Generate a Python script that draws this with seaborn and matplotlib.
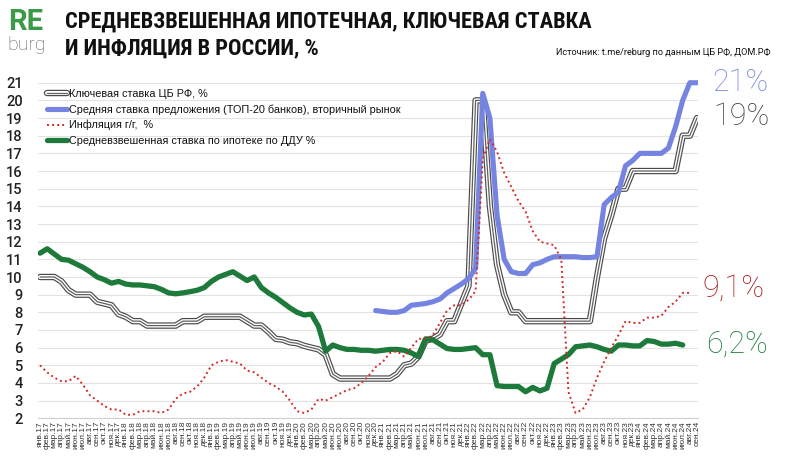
import matplotlib
matplotlib.use("Agg")
import matplotlib.pyplot as plt
import numpy as np
import pandas as pd
import seaborn as sns
from matplotlib.lines import Line2D
from matplotlib.legend_handler import HandlerTuple
from matplotlib import font_manager

# ---------------- data ----------------
month_names = ["янв", "фев", "мар", "апр", "май", "июн", "июл", "авг", "сен", "окт", "ноя", "дек"]
years = ["17", "18", "19", "20", "21", "22", "23", "24"]
month_labels = [f"{m}.{y}" for y in years for m in month_names][:93]  # янв.17 ... сен.24

key_rate = [
    10, 10, 10, 9.75, 9.25, 9.0, 9.0, 9.0, 8.6, 8.5, 8.4, 7.9,
    7.75, 7.5, 7.5, 7.25, 7.25, 7.25, 7.25, 7.25, 7.5, 7.5, 7.5, 7.75,
    7.75, 7.75, 7.75, 7.75, 7.75, 7.5, 7.25, 7.25, 6.9, 6.5, 6.45, 6.3,
    6.25, 6.1, 6.0, 5.9, 5.6, 4.5, 4.25, 4.25, 4.25, 4.25, 4.25, 4.25,
    4.25, 4.25, 4.5, 5.0, 5.1, 5.5, 6.4, 6.5, 6.75, 7.5, 7.5, 8.5,
    9.5, 20, 20, 14, 10.7, 9.0, 8.0, 8.0, 7.5, 7.5, 7.5, 7.5,
    7.5, 7.5, 7.5, 7.5, 7.5, 7.5, 10.0, 12.2, 13.5, 15, 15, 16,
    16, 16, 16, 16, 16, 16, 18, 18, 19,
]

offer_start = 47  # дек.20
offer_rate = [
    8.1,
    8.05, 8.0, 8.0, 8.1, 8.4, 8.45, 8.5, 8.6, 8.75, 9.1, 9.35, 9.6,
    9.9, 10.5, 20.4, 19.0, 13.5, 11.0, 10.3, 10.2, 10.2, 10.7, 10.8, 11.0,
    11.15, 11.15, 11.15, 11.15, 11.1, 11.1, 11.15, 14.1, 14.5, 14.8, 16.3, 16.6,
    17.0, 17.0, 17.0, 17.0, 17.3, 18.5, 20.0, 21.0, 21.0,
]

inflation = [
    5.0, 4.6, 4.3, 4.1, 4.1, 4.4, 3.9, 3.3, 3.0, 2.7, 2.5, 2.5,
    2.2, 2.2, 2.4, 2.4, 2.4, 2.3, 2.5, 3.1, 3.4, 3.5, 3.8, 4.3,
    5.0, 5.2, 5.3, 5.2, 5.1, 4.7, 4.6, 4.3, 4.0, 3.8, 3.5, 3.0,
    2.4, 2.3, 2.5, 3.1, 3.0, 3.2, 3.4, 3.6, 3.7, 4.0, 4.4, 4.9,
    5.2, 5.7, 5.8, 5.5, 6.0, 6.5, 6.5, 6.7, 7.4, 8.1, 8.4, 8.4,
    8.7, 9.2, 16.7, 17.8, 17.1, 15.9, 15.1, 14.3, 13.7, 12.6, 12.0, 11.9,
    11.8, 11.0, 3.5, 2.3, 2.5, 3.2, 4.3, 5.2, 6.0, 6.7, 7.5, 7.4,
    7.4, 7.7, 7.7, 7.8, 8.3, 8.6, 9.1, 9.1,
]

ddu_rate = [
    11.35, 11.6, 11.3, 11.0, 10.95, 10.75, 10.55, 10.3, 10.0, 9.85, 9.65, 9.75,
    9.6, 9.55, 9.55, 9.5, 9.45, 9.3, 9.1, 9.05, 9.1, 9.17, 9.25, 9.4,
    9.75, 10.0, 10.15, 10.3, 10.05, 9.8, 10.0, 9.4, 9.1, 8.85, 8.55, 8.25,
    8.0, 7.85, 7.9, 7.2, 5.8, 6.15, 6.0, 5.9, 5.9, 5.85, 5.85, 5.8,
    5.85, 5.9, 5.9, 5.85, 5.7, 5.5, 6.5, 6.45, 6.2, 5.95, 5.9, 5.9,
    5.95, 6.0, 5.6, 5.6, 3.85, 3.8, 3.8, 3.8, 3.5, 3.75, 3.55, 3.7,
    5.1, 5.35, 5.6, 6.05, 6.1, 6.15, 6.05, 5.9, 5.8, 6.15, 6.15, 6.1,
    6.1, 6.4, 6.35, 6.2, 6.2, 6.25, 6.15,
]

series_names = [
    "Ключевая ставка ЦБ РФ, %",
    "Средняя ставка предложения (ТОП-20 банков), вторичный рынок",
    "Инфляция г/г,  %",
    "Средневзвешенная ставка по ипотеке по ДДУ %",
]
end_labels = ["21%", "19%", "9,1%", "6,2%"]

# ---------------- style ----------------
sns.set_theme(style="white")
plt.rcParams["font.family"] = ["Liberation Sans", "DejaVu Sans"]

names = {f.name for f in font_manager.fontManager.ttflist}
if "Roboto Condensed" in names:
    title_font = dict(family="Roboto Condensed", weight="bold")
elif "Liberation Sans Narrow" in names:
    title_font = dict(family="Liberation Sans Narrow", weight="bold")
else:
    title_font = dict(family="Roboto", weight="bold")
narrow = "Liberation Sans Narrow" if "Liberation Sans Narrow" in names else "Roboto"

C_KEY = "#4a4a4a"
C_BLUE = "#7584e0"
C_RED = "#d42a2a"
C_GREEN = "#1d7a3a"

W, H = 800, 459
fig = plt.figure(figsize=(W / 100, H / 100), dpi=100)
fig.patch.set_facecolor("white")

ax_left, ax_right = 37.9, 698.4
ax_top, ax_bot = 79.2, 418.3
ax = fig.add_axes([ax_left / W, 1 - ax_bot / H, (ax_right - ax_left) / W, (ax_bot - ax_top) / H])

df_key = pd.DataFrame({"m": np.arange(len(key_rate)), "v": key_rate})
df_offer = pd.DataFrame({"m": np.arange(offer_start, offer_start + len(offer_rate)), "v": offer_rate})
df_infl = pd.DataFrame({"m": np.arange(len(inflation)), "v": inflation})
df_ddu = pd.DataFrame({"m": np.arange(len(ddu_rate)), "v": ddu_rate})

# key rate: triple (double-outline) line
sns.lineplot(data=df_key, x="m", y="v", ax=ax, color=C_KEY, linewidth=4.6, zorder=3)
sns.lineplot(data=df_key, x="m", y="v", ax=ax, color="white", linewidth=2.9, zorder=3.1)
sns.lineplot(data=df_key, x="m", y="v", ax=ax, color="#606060", linewidth=0.9, zorder=3.2)
# offer rate
sns.lineplot(data=df_offer, x="m", y="v", ax=ax, color=C_BLUE, linewidth=3.7, zorder=4,
             solid_capstyle="round", solid_joinstyle="round")
# DDU rate
sns.lineplot(data=df_ddu, x="m", y="v", ax=ax, color=C_GREEN, linewidth=3.8, zorder=5,
             solid_capstyle="round", solid_joinstyle="round")
# inflation
sns.lineplot(data=df_infl, x="m", y="v", ax=ax, color=C_RED, linewidth=1.4, zorder=6,
             linestyle=(0, (1, 1.6)))

ax.set_xlim(-0.3, 92.2)
ax.set_ylim(2, 21.2)
ax.set_yticks(range(2, 22))
ax.set_xticks(range(len(month_labels)))
ax.set_xticklabels(month_labels, rotation=90, fontsize=6, color="#333333", family="Liberation Sans")
for lab in ax.get_yticklabels():
    lab.set_fontfamily("Roboto")
    lab.set_fontweight("medium")
    lab.set_fontsize(10.5)
    lab.set_color("#222222")
ax.tick_params(axis="y", length=0, pad=11)
ax.tick_params(axis="x", length=0, pad=2)
ax.grid(axis="y", color="#e2e2e2", linewidth=0.8)
ax.grid(axis="x", visible=False)
ax.set_axisbelow(True)
for s in ["left", "right", "top"]:
    ax.spines[s].set_visible(False)
ax.spines["bottom"].set_color("#d0d0d0")
ax.spines["bottom"].set_linewidth(0.8)
ax.set_xlabel("")
ax.set_ylabel("")

# legend
h_key = (Line2D([], [], color=C_KEY, lw=4.6), Line2D([], [], color="white", lw=2.9),
         Line2D([], [], color="#606060", lw=0.9))
h_blue = Line2D([], [], color=C_BLUE, lw=3.7)
h_red = Line2D([], [], color=C_RED, lw=1.4, linestyle=(0, (1, 1.6)))
h_green = Line2D([], [], color=C_GREEN, lw=3.8)
leg = fig.legend([h_key, h_blue, h_red, h_green], series_names,
                 handler_map={tuple: HandlerTuple(ndivide=1)},
                 loc="upper left", bbox_to_anchor=(47 / W, 1 - 89 / H),
                 frameon=False, fontsize=7.8, handlelength=1.85, handletextpad=0.2,
                 labelspacing=0.48, borderpad=0, borderaxespad=0)
for t in leg.get_texts():
    t.set_color("#111111")

# end labels
end_cfg = [(712, 82.5, C_BLUE), (713, 116.5, "#444444"), (703, 288, "#a81818"), (706, 344.5, C_GREEN)]
for txt, (x, y, c) in zip(end_labels, end_cfg):
    fig.text(x / W, 1 - y / H, txt, color=c, fontsize=22, family="Roboto", fontweight="light",
             ha="left", va="center")

# logo
fig.text(8 / W, 1 - 29.5 / H, "RE", color="#3a9a48", fontsize=21, family="Roboto",
         fontweight="bold", ha="left", va="baseline")
fig.text(7 / W, 1 - 50 / H, "burg", color="#666666", fontsize=14, family="Roboto",
         fontweight="light", ha="left", va="baseline")

# title, fitted to the reference width
title_lines = ["СРЕДНЕВЗВЕШЕННАЯ ИПОТЕЧНАЯ, КЛЮЧЕВАЯ СТАВКА", "И ИНФЛЯЦИЯ В РОССИИ, %"]
t1 = fig.text(65 / W, 1 - 28 / H, title_lines[0], fontsize=15, color="#111111",
              ha="left", va="baseline", **title_font)
renderer = fig.canvas.get_renderer()
w1 = t1.get_window_extent(renderer).width
fs = 15 * 528 / w1
t1.set_fontsize(fs)
fig.text(65 / W, 1 - 54 / H, title_lines[1], fontsize=fs, color="#111111",
         ha="left", va="baseline", **title_font)

fig.text(770 / W, 1 - 55 / H, "Источник: t.me/reburg по данным ЦБ РФ, ДОМ.РФ",
         fontsize=6.6, family=narrow, color="#111111", ha="right", va="baseline")

fig.savefig("out.png", dpi=100, facecolor="white")
